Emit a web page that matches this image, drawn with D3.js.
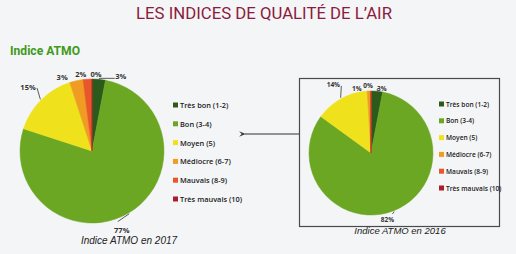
<!DOCTYPE html>
<html>
<head>
<meta charset="utf-8">
<script src="https://cdn.jsdelivr.net/npm/d3@7"></script>
<style>
  body { margin: 0; background: #f4f5f7; }
  svg { display: block; }
</style>
</head>
<body>
<script>
// categories and values
var categories = ["Très bon (1-2)", "Bon (3-4)", "Moyen (5)", "Médiocre (6-7)", "Mauvais (8-9)", "Très mauvais (10)"];
var values2017 = [3, 77, 15, 3, 2, 0];
var values2016 = [3, 82, 14, 1, 0, 0];
var colors = ["#2c5a1c", "#6ba723", "#efe21d", "#f09c22", "#e8572b", "#a91d2f"];

var W = 516, H = 254;
var svg = d3.select("body").append("svg").attr("width", W).attr("height", H);

// title
svg.append("text")
  .attr("x", 136).attr("y", 19)
  .attr("textLength", 256).attr("lengthAdjust", "spacingAndGlyphs")
  .attr("font-family", "Roboto, 'Liberation Sans', sans-serif")
  .attr("font-size", 17)
  .attr("fill", "#8c1b3c")
  .text("LES INDICES DE QUALITÉ DE L’AIR");

svg.append("text")
  .attr("x", 10).attr("y", 55)
  .attr("textLength", 70).attr("lengthAdjust", "spacingAndGlyphs")
  .attr("font-family", "Roboto, 'Liberation Sans', sans-serif")
  .attr("font-weight", "bold")
  .attr("font-size", 13.5)
  .attr("fill", "#3f9a1c")
  .text("Indice ATMO");

// box around 2016 chart
svg.append("rect")
  .attr("x", 299.5).attr("y", 78.5).attr("width", 200).attr("height", 148)
  .attr("fill", "none").attr("stroke", "#4a4a4a").attr("stroke-width", 1.2);

// arrow
svg.append("defs").append("marker")
  .attr("id", "arr").attr("viewBox", "0 0 10 10")
  .attr("refX", 1).attr("refY", 5)
  .attr("markerWidth", 7).attr("markerHeight", 6).attr("orient", "auto")
  .append("path").attr("d", "M10,1 L0,5 L10,9 L6,5 Z").attr("fill", "#333");
svg.append("line")
  .attr("x1", 299).attr("x2", 245).attr("y1", 134).attr("y2", 134)
  .attr("stroke", "#333").attr("stroke-width", 1.1)
  .attr("marker-end", "url(#arr)");

var pie = d3.pie().sort(null).value(function(d) { return d; });

function drawPie(cfg) {
  var g = svg.append("g").attr("transform", "translate(" + cfg.cx + "," + cfg.cy + ")");
  var arcs = pie(cfg.values);
  var arc = d3.arc().innerRadius(0).outerRadius(cfg.r);

  g.selectAll("path.slice").data(arcs).enter().append("path")
    .attr("class", "slice")
    .attr("d", arc)
    .attr("fill", function(d, i) { return colors[i]; })
    .attr("stroke", function(d, i) { return colors[i]; })
    .attr("stroke-width", 0.5);

  // labels
  arcs.forEach(function(d, i) {
    if (cfg.hide.indexOf(i) >= 0) return;
    var mid = (d.startAngle + d.endAngle) / 2;
    var lr = cfg.r + 10;
    var tx = Math.sin(mid) * lr + cfg.nudge[i][0];
    var ty = -Math.cos(mid) * lr + cfg.nudge[i][1];
    var ex = Math.sin(mid) * (cfg.r + 1), ey = -Math.cos(mid) * (cfg.r + 1);
    if (cfg.leader[i]) {
      var lx = tx + cfg.leader[i][0], ly = ty + cfg.leader[i][1];
      g.append("path")
        .attr("d", "M" + ex + "," + ey + " L" + lx + "," + ly)
        .attr("fill", "none").attr("stroke", "#333").attr("stroke-width", 0.8);
    }
    g.append("text")
      .attr("x", tx).attr("y", ty)
      .attr("text-anchor", "middle").attr("dominant-baseline", "central")
      .attr("font-family", "'Open Sans', sans-serif")
      .attr("font-weight", "bold")
      .attr("font-size", cfg.labelSize)
      .attr("fill", "#333")
      .text(cfg.values[i] + "%");
  });

  // legend
  var leg = svg.append("g").attr("transform", "translate(" + cfg.lx + "," + cfg.ly + ")");
  categories.forEach(function(c, i) {
    var row = leg.append("g").attr("transform", "translate(0," + i * cfg.step + ")");
    row.append("rect").attr("x", 0).attr("y", -2.5).attr("width", 5).attr("height", 5)
      .attr("fill", colors[i]);
    row.append("text").attr("x", 7).attr("y", 0)
      .attr("dominant-baseline", "central")
      .attr("font-family", "'Open Sans', sans-serif")
      .attr("font-weight", 600)
      .attr("font-size", cfg.legendSize)
      .attr("fill", "#1a1a1a")
      .text(c);
  });

  svg.append("text")
    .attr("x", cfg.capX).attr("y", cfg.capY)
    .attr("text-anchor", "middle")
    .attr("font-family", "'Liberation Sans', Arial, sans-serif")
    .attr("font-style", "italic")
    .attr("font-size", cfg.capSize)
    .attr("fill", "#222")
    .text(cfg.caption);
}

drawPie({
  values: values2017, cx: 92, cy: 151, r: 72,
  nudge: [[21, 7], [-12, 8], [-6, -6], [-12, 6], [-6, 5], [4, 5]],
  leader: [[-6, 2], [-4, -8], [9, 1], null, null, null],
  hide: [],
  labelSize: 7.5,
  lx: 173, ly: 105, step: 18.8, legendSize: 7.4,
  caption: "Indice ATMO en 2017", capX: 129, capY: 244, capSize: 10
});

drawPie({
  values: values2016, cx: 371, cy: 153, r: 62,
  nudge: [[4, 7], [-10, 0], [-3, -5], [-12, 7], [-3, 4], [-3, 4]],
  leader: [[-4, 0], [5, -6], [8, 1], null, null, null],
  hide: [5],
  labelSize: 6.5,
  lx: 439, ly: 104, step: 16.8, legendSize: 6.6,
  caption: "Indice ATMO en 2016", capX: 400, capY: 234, capSize: 9.5
});
</script>
</body>
</html>
